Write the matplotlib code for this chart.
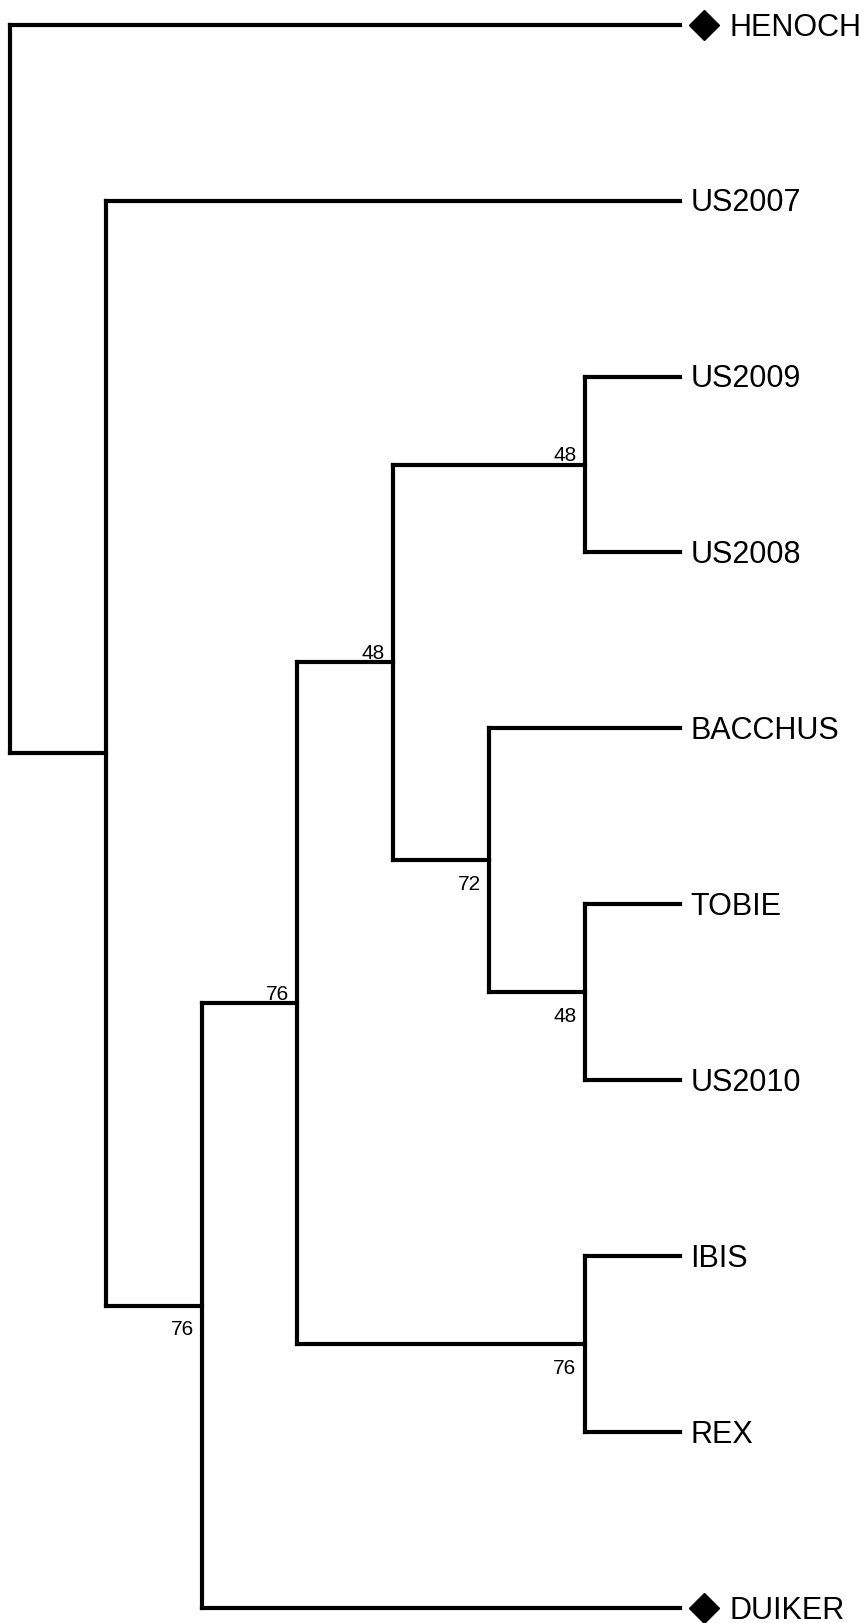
import matplotlib
matplotlib.use('Agg')
import matplotlib.pyplot as plt
from matplotlib.transforms import offset_copy

plt.rcParams['font.family'] = ['Liberation Sans', 'DejaVu Sans']

# tip order, top to bottom
leaves = ['HENOCH', 'US2007', 'US2009', 'US2008', 'BACCHUS',
          'TOBIE', 'US2010', 'IBIS', 'REX', 'DUIKER']
marked = ['HENOCH', 'DUIKER']   # outgroups drawn with a diamond

topology = ('HENOCH',
            ('US2007',
             (((('US2009', 'US2008'),
                ('BACCHUS', ('TOBIE', 'US2010'))),
               ('IBIS', 'REX')),
              'DUIKER')))

support_clades = [
    ['US2009', 'US2008'],
    ['US2009', 'US2008', 'BACCHUS', 'TOBIE', 'US2010'],
    ['BACCHUS', 'TOBIE', 'US2010'],
    ['TOBIE', 'US2010'],
    ['US2009', 'US2008', 'BACCHUS', 'TOBIE', 'US2010', 'IBIS', 'REX'],
    ['IBIS', 'REX'],
    ['US2009', 'US2008', 'BACCHUS', 'TOBIE', 'US2010', 'IBIS', 'REX', 'DUIKER'],
]
support = [48, 48, 72, 48, 76, 76, 76]


def height(n):
    if isinstance(n, str):
        return 0
    return 1 + max(height(c) for c in n)


def members(n):
    if isinstance(n, str):
        return [n]
    return members(n[0]) + members(n[1])


fig = plt.figure(figsize=(8.68, 16.23), dpi=100)
ax = fig.add_axes([0, 0, 1, 1])
ax.set_xlim(-0.108, 8.962)
ax.set_ylim(9.086, -0.141)
ax.axis('off')

max_h = height(topology)
lw = 3
col = 'black'


def draw_label(name, x, y):
    dx = 35.5 if name in marked else 7.2
    ax.annotate(name, (x, y), xytext=(dx, -2), textcoords='offset points',
                ha='left', va='center', fontsize=22, color=col)


def draw(n, parent_x=None, side=None):
    x = max_h - height(n)
    if isinstance(n, str):
        y = leaves.index(n)
        draw_label(n, x, y)
    else:
        ys = [draw(c, x, i) for i, c in enumerate(n)]
        y = (ys[0] + ys[1]) / 2
        ax.plot([x, x], [ys[0], ys[1]], color=col, lw=lw,
                solid_capstyle='projecting')
    if parent_x is not None:
        ax.plot([parent_x, x], [y, y], color=col, lw=lw,
                solid_capstyle='projecting')
        if not isinstance(n, str):
            m = sorted(members(n))
            for cl, s in zip(support_clades, support):
                if sorted(cl) == m:
                    dy = 2.2 if side == 0 else -21.5
                    ax.annotate(str(s), (x, y), xytext=(-5.8, dy),
                                textcoords='offset points', ha='right',
                                va='baseline', fontsize=15, color=col)
    return y


draw(topology)

# diamonds for the outgroups, a little right of the tips
shift = offset_copy(ax.transData, fig=fig, x=17.4, y=0, units='points')
for name in marked:
    ax.plot([max_h], [leaves.index(name)], marker='D', color=col,
            markersize=15.5, linestyle='none', transform=shift, clip_on=False)

fig.savefig('out.png', dpi=100)
